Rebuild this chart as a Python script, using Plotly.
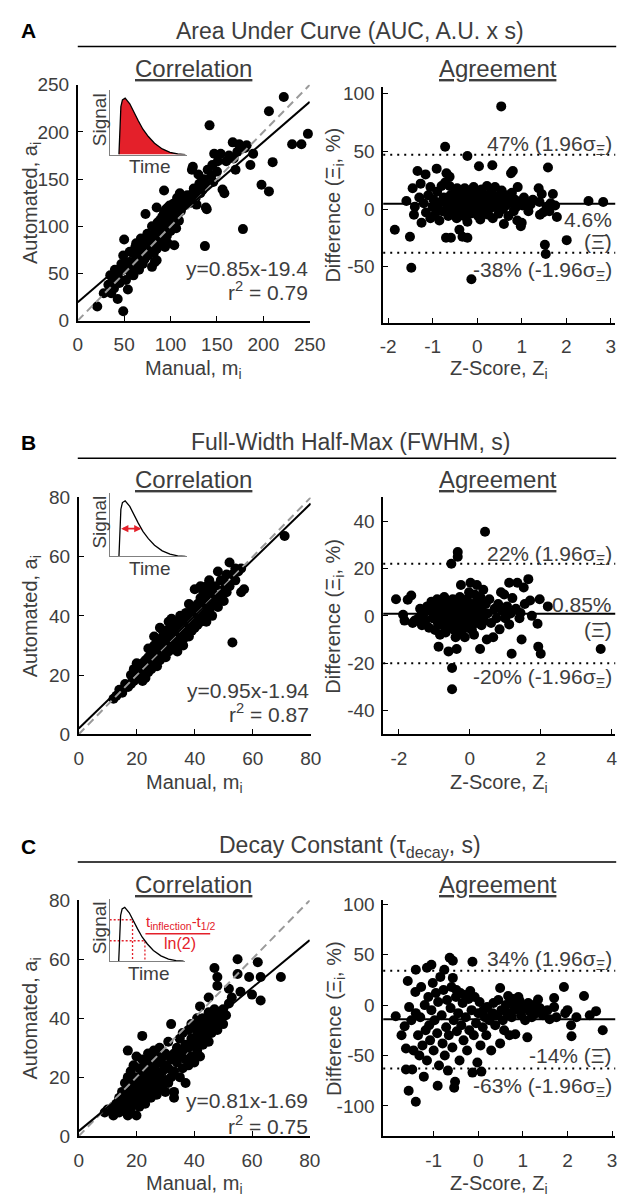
import numpy as np
import plotly.graph_objects as go

W, H = 630, 1201
FONT = "Liberation Sans, Arial, Helvetica, sans-serif"
TXT = "#3d3d3d"
RED = "#e4202a"

# ---------------- data ----------------
panel_letters = ["A", "B", "C"]
panel_titles = ["Area Under Curve (AUC, A.U. x s)",
                "Full-Width Half-Max (FWHM, s)",
                "Decay Constant (τ<sub>decay</sub>, s)"]
fit_slope = [0.85, 0.95, 0.81]
fit_offset = [19.4, 1.94, 1.69]
fit_labels = ["y=0.85x-19.4", "y=0.95x-1.94", "y=0.81x-1.69"]
r_squared = [0.79, 0.87, 0.75]
agree_mean = [4.6, 0.85, -14]
agree_upper = [47, 22, 34]
agree_lower = [-38, -20, -63]
corr_ticks = [[0, 50, 100, 150, 200, 250], [0, 20, 40, 60, 80], [0, 20, 40, 60, 80]]
z_ticks = [[-2, -1, 0, 1, 2, 3], [-2, 0, 2, 4], [-1, 0, 1, 2, 3]]
diff_ticks = [[-100, -50, 0, 50, 100], [-40, -20, 0, 20, 40], [-100, -50, 0, 50, 100]]

# (manual, automated)
auc_corr = [(21,15),(28,29),(33,38),(35,48),(36,29),(38,43),(39,34),(40,54),(43,23),(43,50),(44,45),(45,40),
 (47,60),(49,10),(49,54),(49,69),(50,86),(52,43),(53,62),(54,33),(56,57),(56,73),(57,50),(58,62),(60,48),
 (61,71),(62,58),(62,78),(63,82),(64,66),(65,70),(66,54),(67,75),(68,80),(68,87),(69,68),(70,60),(71,73),
 (71,85),(72,65),(73,113),(74,78),(75,82),(75,92),(76,69),(77,90),(78,75),(79,88),(80,83),(80,57),(80,100),
 (82,72),(83,62),(83,88),(84,95),(85,76),(85,64),(85,120),(86,104),(87,99),(87,90),(88,80),(89,107),(90,92),
 (90,85),(91,110),(92,95),(92,100),(93,138),(93,115),(94,78),(94,99),(95,105),(95,118),(96,90),(97,82),
 (97,102),(97,120),(98,110),(99,122),(100,95),(101,108),(101,113),(102,100),(103,124),(104,80),(104,116),
 (105,104),(106,98),(107,130),(108,113),(108,125),(109,106),(110,118),(110,135),(111,116),(112,130),
 (113,121),(115,128),(116,125),(118,127),(118,133),(120,130),(122,125),(123,134),(123,160),(124,163),
 (125,140),(127,130),(128,123),(130,155),(131,145),(132,135),(134,138),(135,140),(136,150),(137,79),
 (138,120),(139,144),(139,118),(140,160),(142,207),(144,154),(145,165),(146,147),(147,177),(150,158),
 (151,169),(154,177),(156,139),(158,135),(160,169),(163,175),(167,189),(168,172),(170,160),(172,179),
 (174,187),(178,97),(180,183),(182,186),(186,165),(189,177),(198,144),(206,137),(206,222),(210,168),
 (222,237),(231,187),(241,187),(248,198)]

fwhm_corr = [(12,12),(13,13),(14,15),(15,14),(16,17),(17,16),(18,17),(18,20),(19,18),(19,22),(20,19),(20,21),
 (21,20),(21,23),(22,20),(22,24),(23,22),(23,25),(24,21),(24,23),(24,26),(25,22),(25,25),(25,28),(26,24),
 (26,27),(26,30),(27,23),(27,26),(27,29),(28,25),(28,28),(28,31),(28,36),(29,27),(29,30),(29,33),(30,26),
 (30,29),(30,32),(30,35),(31,28),(31,31),(31,34),(32,29),(32,32),(32,36),(33,30),(33,33),(33,38),(34,31),
 (34,34),(34,37),(35,30),(35,33),(35,36),(35,40),(36,32),(36,35),(36,38),(37,34),(37,37),(37,41),(38,33),
 (38,36),(38,40),(39,35),(39,38),(39,43),(40,36),(40,39),(40,42),(40,49),(41,37),(41,40),(41,44),(42,38),
 (42,42),(42,46),(42,50),(43,40),(43,44),(43,48),(44,41),(44,45),(44,50),(45,42),(45,47),(45,52),(46,44),
 (46,48),(47,45),(47,50),(48,43),(48,46),(48,55),(49,47),(49,52),(50,45),(50,49),(50,52),(51,48),(51,54),
 (52,50),(52,58),(53,31),(53,54),(54,52),(54,56),(55,55),(56,48),(56,56),(57,49),(71,67),(26,33),(24,29),
 (22,18),(34,28),(36,30),(38,44),(32,39),(29,35),(31,38),(44,38),(46,40),(27,32),(23,19),(20,24)]

decay_corr = [(9,8),(10,9),(12,7),(12,10),(13,11),(14,8),(14,13),(15,9),(15,12),(15,15),(16,10),(16,14),
 (16,18),(17,7),(17,12),(17,16),(17,20),(17,29),(18,9),(18,13),(18,17),(18,22),(19,11),(19,15),(19,19),
 (19,24),(20,7),(20,12),(20,16),(20,20),(20,27),(21,10),(21,14),(21,18),(21,23),(22,13),(22,17),(22,21),
 (22,26),(22,34),(23,11),(23,15),(23,19),(23,24),(24,14),(24,18),(24,22),(24,28),(25,13),(25,17),(25,21),
 (25,26),(26,15),(26,19),(26,24),(26,29),(27,14),(27,18),(27,22),(27,27),(28,16),(28,20),(28,25),(28,30),
 (29,17),(29,22),(29,27),(30,15),(30,19),(30,24),(30,28),(31,18),(31,23),(31,32),(32,20),(32,26),(32,38),
 (33,13),(33,15),(33,22),(33,28),(34,25),(34,30),(35,20),(35,27),(35,33),(36,23),(36,29),(36,35),(37,18),
 (37,26),(37,31),(38,24),(38,30),(38,36),(39,27),(39,33),(39,38),(40,25),(40,31),(40,37),(41,29),(41,35),
 (41,40),(42,27),(42,33),(42,38),(42,44),(43,31),(43,36),(43,40),(44,34),(44,39),(45,32),(45,37),(45,42),
 (45,47),(46,35),(46,40),(47,38),(47,43),(47,57),(48,36),(48,41),(48,51),(48,54),(49,40),(50,38),(50,43),
 (51,41),(52,45),(52,50),(53,47),(55,60),(55,55),(56,49),(59,54),(60,48),(62,59),(63,54),(63,46),(70,54)]

# (z-score, difference %)
auc_agree = [(-1.85,-18),(-1.59,7),(-1.51,-24),(-1.48,-51),(-1.45,18),(-1.42,-5),(-1.40,2),(-1.34,33),
 (-1.30,10),(-1.27,22),(-1.25,-12),(-1.20,5),(-1.16,30),(-1.15,-3),(-1.10,12),(-1.05,19),(-1.05,-8),
 (-1.00,2),(-0.98,8),(-0.95,-5),(-0.91,35),(-0.90,15),(-0.88,0),(-0.85,-10),(-0.82,6),(-0.80,20),
 (-0.78,-2),(-0.75,10),(-0.72,54),(-0.72,23),(-0.70,-25),(-0.69,31),(-0.68,4),(-0.65,-6),(-0.62,28),
 (-0.62,20),(-0.60,12),(-0.59,-25),(-0.58,0),(-0.55,8),(-0.52,-4),(-0.50,15),(-0.48,3),(-0.46,-8),
 (-0.45,18),(-0.43,6),(-0.40,-18),(-0.40,10),(-0.38,-2),(-0.36,14),(-0.35,2),(-0.33,-24),(-0.32,8),
 (-0.30,-6),(-0.28,18),(-0.26,4),(-0.24,12),(-0.22,46),(-0.22,-11),(-0.22,-25),(-0.20,0),(-0.18,16),
 (-0.16,7),(-0.15,-4),(-0.13,-61),(-0.12,10),(-0.10,3),(-0.08,19),(-0.06,-2),(-0.05,8),(-0.02,14),
 (0.00,5),(0.02,-6),(0.04,37),(0.05,11),(0.07,-9),(0.08,2),(0.10,17),(0.12,6),(0.15,-3),(0.17,12),
 (0.20,4),(0.22,20),(0.25,-5),(0.27,9),(0.30,1),(0.32,15),(0.34,38),(0.35,-8),(0.38,6),(0.40,19),
 (0.42,2),(0.45,11),(0.48,-4),(0.50,7),(0.54,89),(0.55,16),(0.58,0),(0.60,-13),(0.62,9),(0.65,3),
 (0.68,12),(0.70,-6),(0.72,5),(0.76,31),(0.78,14),(0.80,33),(0.82,-2),(0.85,8),(0.88,2),(0.90,-10),
 (0.91,19),(0.95,6),(0.98,-15),(1.00,-12),(1.02,3),(1.05,10),(1.10,5),(1.15,-2),(1.20,4),(1.25,8),
 (1.38,18),(1.40,6),(1.41,-5),(1.45,13),(1.48,-3),(1.52,-31),(1.54,-39),(1.56,2),(1.59,36),(1.62,-2),
 (1.65,5),(1.70,13),(1.75,3),(1.79,-7),(2.01,-27),(2.50,7),(2.83,6)]

fwhm_agree = [(-2.08,7),(-1.88,0.5),(-1.84,-2),(-1.75,6.8),(-1.65,8.6),(-1.61,-3),(-1.55,-2),(-1.45,-1),
 (-1.40,3),(-1.35,-4),(-1.30,1),(-1.25,-2),(-1.20,4),(-1.15,-5),(-1.10,2),(-1.08,6),(-1.05,-1),(-1.00,3),
 (-0.98,-6),(-0.95,1),(-0.92,7),(-0.90,-3),(-0.88,-13),(-0.86,4),(-0.84,-8),(-0.82,0),(-0.80,5),
 (-0.78,-4),(-0.75,2),(-0.72,8),(-0.70,-2),(-0.68,-7),(-0.66,3),(-0.64,-1),(-0.62,6),(-0.60,-15),
 (-0.58,1),(-0.56,-5),(-0.54,4),(-0.52,22),(-0.52,-3),(-0.50,-22),(-0.50,-31),(-0.48,7),(-0.46,0),
 (-0.44,-6),(-0.42,2),(-0.40,-9),(-0.38,5),(-0.37,-14),(-0.36,-2),(-0.34,27),(-0.34,25),(-0.32,1),
 (-0.30,-4),(-0.28,8),(-0.26,3),(-0.25,13),(-0.24,-7),(-0.22,0),(-0.20,6),(-0.18,-3),(-0.16,2),
 (-0.14,-9),(-0.12,4),(-0.10,-1),(-0.08,7),(-0.06,-5),(-0.04,1),(-0.02,10),(0.00,-2),(0.02,14),(0.04,3),
 (0.06,-6),(0.08,5),(0.10,0),(0.12,-8),(0.14,9),(0.16,2),(0.18,-3),(0.20,13),(0.22,6),(0.25,-1),
 (0.28,4),(0.29,-14),(0.30,8),(0.33,-4),(0.35,2),(0.38,11),(0.40,-2),(0.43,35.5),(0.45,5),(0.48,-10),
 (0.50,1),(0.55,7),(0.60,-3),(0.66,-9),(0.70,3),(0.75,-1),(0.80,5),(0.84,-5.7),(0.88,10),(0.92,2),
 (0.97,9),(1.00,-1),(1.05,4),(1.11,14),(1.11,-3.6),(1.15,1),(1.18,-16),(1.20,7.5),(1.30,3),(1.34,14),
 (1.40,-1),(1.43,1.2),(1.46,-10),(1.52,12),(1.55,5),(1.65,15.5),(1.70,6.5),(1.75,0),(1.91,-3.3),
 (1.93,-13),(1.97,7),(2.00,-16),(2.20,4),(3.69,-14)]

decay_agree = [(-1.85,-11),(-1.72,-30),(-1.65,-21),(-1.62,-64),(-1.62,-43),(-1.58,24),(-1.56,-85),
 (-1.55,-2),(-1.50,-15),(-1.48,-64),(-1.45,-45),(-1.41,13),(-1.40,-96),(-1.40,35),(-1.40,-8),(-1.35,-30),
 (-1.32,-50),(-1.30,-12),(-1.28,18),(-1.25,-40),(-1.22,-71),(-1.20,0),(-1.18,-25),(-1.15,37),(-1.15,-55),
 (-1.12,8),(-1.10,-20),(-1.08,-35),(-1.05,40),(-1.05,-5),(-1.02,22),(-1.00,-45),(-0.98,-15),(-0.95,12),
 (-0.92,-28),(-0.91,-80),(-0.90,3),(-0.88,-60),(-0.85,28),(-0.82,-10),(-0.80,-38),(-0.78,15),(-0.76,35),
 (-0.75,-50),(-0.72,-22),(-0.70,5),(-0.68,-65),(-0.66,-30),(-0.64,47),(-0.62,-3),(-0.60,18),(-0.58,-42),
 (-0.57,44),(-0.57,27),(-0.55,-15),(-0.54,-82),(-0.52,-76),(-0.50,8),(-0.49,15),(-0.48,-26),(-0.45,-8),
 (-0.42,-55),(-0.40,12),(-0.38,-20),(-0.35,2),(-0.33,-35),(-0.30,10),(-0.28,-12),(-0.25,-45),(-0.22,6),
 (-0.20,-25),(-0.18,14),(-0.15,-5),(-0.13,43),(-0.13,-67),(-0.10,-30),(-0.08,8),(-0.05,-18),(-0.02,-57),
 (0.00,-8),(0.03,3),(0.05,-40),(0.07,-66),(0.10,-22),(0.12,-5),(0.15,-12),(0.18,-30),(0.20,-2),
 (0.25,-15),(0.29,-45),(0.32,-8),(0.34,2),(0.38,-20),(0.42,-10),(0.45,5),(0.49,17),(0.49,-38),(0.52,-5),
 (0.55,-15),(0.58,-25),(0.62,0),(0.65,-8),(0.67,9),(0.70,-30),(0.72,3),(0.75,-12),(0.78,6),(0.80,-5),
 (0.83,-29),(0.86,-2),(0.90,8),(0.93,4),(0.96,-10),(1.00,-3),(1.05,-15),(1.10,-32),(1.12,2),(1.15,-6),
 (1.20,-12),(1.25,0),(1.30,-8),(1.34,5.5),(1.38,-3),(1.45,-10),(1.55,-5),(1.60,-14),(1.70,7),(1.70,-2),
 (1.75,-12),(1.92,18),(1.95,-8),(2.00,-5),(2.08,-20),(2.09,-31),(2.20,-12),(2.37,9),(2.50,-10),
 (2.64,-6),(2.79,-25)]

# schematic signal curve in the insets
inset_time = [1.2, 1.3, 1.45, 1.65, 2.0, 2.6, 3.1, 3.7, 4.3, 5.0, 5.8, 6.8, 7.8, 8.8, 9.8]
inset_signal = [0.0, 0.55, 0.85, 0.97, 1.0, 0.9, 0.75, 0.6, 0.45, 0.32, 0.2, 0.1, 0.04, 0.01, 0.0]
decay_levels = [0.77, 0.38]

corr_sets = [auc_corr, fwhm_corr, decay_corr]
agree_sets = [auc_agree, fwhm_agree, decay_agree]

# ---------------- geometry (pixels) ----------------
def dom_x(a, b):
    return [a / W, b / W]

def dom_y(top, bot):
    return [1 - bot / H, 1 - top / H]

def px(xp):
    return xp / W

def py(yp):
    return 1 - yp / H

left_x = [(67, 307), (68, 308), (68, 307)]
left_y = [(68, 308), (488, 729), (898, 1138)]
right_x = [(383, 623), (383, 623), (383, 623)]
right_y = [(70, 310), (488, 729), (898, 1138)]
left_rng = [[0, 250], [0, 80], [0, 80]]
right_xrng = [[-2.11, 3.1], [-2.44, 4.1], [-2.13, 3.07]]
right_yrng = [[-98.5, 106], [-50, 50], [-130, 104]]
inset_x = [(100, 180), (100, 180), (100, 178)]
inset_y = [(73, 139), (483, 548), (897, 960)]

title_y = [13, 432, 843]
line_y = [29, 448, 859]
sub_y = [51, 470, 882]
xlab_y = [358, 779, 1187]
eq_y = [255, 684, 1102]
r2_y = [278, 707, 1127]

fig = go.Figure()
layout = {}

def main_axis(dom, rng, ticks, anchor, standoff):
    return dict(domain=dom, range=rng, tickvals=ticks, ticktext=[f"{v:g}" for v in ticks],
                anchor=anchor, showline=True, linecolor="black", linewidth=1.6,
                ticks="inside", ticklen=5, tickwidth=1.3, tickcolor="black",
                showgrid=False, zeroline=False, ticklabelstandoff=standoff,
                tickfont=dict(family=FONT, size=19, color=TXT), fixedrange=True)

def inset_axis(dom, rng, anchor):
    return dict(domain=dom, range=rng, anchor=anchor, showline=True, linecolor="#808080",
                linewidth=1.2, ticks="", showticklabels=False, showgrid=False,
                zeroline=False, fixedrange=True)

annotations = []
shapes = []

def txt(x, y, text, size=19, color=TXT, xanchor="center", yanchor="middle", textangle=0, **kw):
    annotations.append(dict(x=x, y=y, xref=kw.pop("xref", "paper"), yref=kw.pop("yref", "paper"),
                            text=text, showarrow=False, xanchor=xanchor, yanchor=yanchor,
                            textangle=textangle,
                            font=dict(family=FONT, size=size, color=color), **kw))

t_arr = np.array(inset_time)
s_arr = np.array(inset_signal)
ipk = int(s_arr.argmax())

for i in range(3):
    nl = 2 * i + 1
    nr = 2 * i + 2
    ni = 7 + i
    xl, yl = f"x{nl}", f"y{nl}"
    xr, yr = f"x{nr}", f"y{nr}"
    xi, yi = f"x{ni}", f"y{ni}"
    layout[f"xaxis{nl}"] = main_axis(dom_x(*left_x[i]), left_rng[i], corr_ticks[i], yl, 6)
    layout[f"yaxis{nl}"] = main_axis(dom_y(*left_y[i]), left_rng[i], corr_ticks[i], xl, 3)
    layout[f"xaxis{nr}"] = main_axis(dom_x(*right_x[i]), right_xrng[i], z_ticks[i], yr, 6)
    layout[f"yaxis{nr}"] = main_axis(dom_y(*right_y[i]), right_yrng[i], diff_ticks[i], xr, 3)
    layout[f"xaxis{ni}"] = inset_axis(dom_x(*inset_x[i]), [0, 10], yi)
    layout[f"yaxis{ni}"] = inset_axis(dom_y(*inset_y[i]), [0, 1.15], xi)

    # ---- correlation scatter ----
    m, a = zip(*corr_sets[i])
    fig.add_trace(go.Scatter(x=m, y=a, mode="markers", xaxis=xl, yaxis=yl, cliponaxis=False,
                             marker=dict(color="black", size=10, line=dict(width=0)),
                             hoverinfo="skip", showlegend=False))
    xs = np.array(left_rng[i], dtype=float)
    fig.add_trace(go.Scatter(x=xs, y=xs, mode="lines", xaxis=xl, yaxis=yl,
                             line=dict(color="#9a9a9a", width=2, dash="8px,5px"),
                             hoverinfo="skip", showlegend=False))
    fig.add_trace(go.Scatter(x=xs, y=fit_slope[i] * xs + fit_offset[i], mode="lines",
                             xaxis=xl, yaxis=yl, line=dict(color="black", width=2),
                             hoverinfo="skip", showlegend=False))

    # ---- agreement scatter ----
    z, d = zip(*agree_sets[i])
    fig.add_trace(go.Scatter(x=z, y=d, mode="markers", xaxis=xr, yaxis=yr, cliponaxis=False,
                             marker=dict(color="black", size=10, line=dict(width=0)),
                             hoverinfo="skip", showlegend=False))
    for val, dash in [(agree_mean[i], "solid"), (agree_upper[i], "2px,5px"), (agree_lower[i], "2px,5px")]:
        shapes.append(dict(type="line", xref=f"{xr} domain", yref=yr, x0=0, x1=1, y0=val, y1=val,
                           line=dict(color="black", width=2, dash=dash)))

    # ---- inset ----
    if i == 0:
        fig.add_trace(go.Scatter(x=inset_time, y=inset_signal, mode="lines", fill="tozeroy",
                                 fillcolor=RED, line=dict(color="black", width=1.3),
                                 xaxis=xi, yaxis=yi, hoverinfo="skip", showlegend=False))
    elif i == 1:
        fig.add_trace(go.Scatter(x=inset_time, y=inset_signal, mode="lines",
                                 line=dict(color="black", width=1.3),
                                 xaxis=xi, yaxis=yi, hoverinfo="skip", showlegend=False))
        half = 0.5 * s_arr.max()
        t_rise = np.interp(half, s_arr[:ipk + 1], t_arr[:ipk + 1])
        t_fall = np.interp(half, s_arr[ipk:][::-1], t_arr[ipk:][::-1])
        annotations.append(dict(x=t_fall, y=half, ax=t_rise, ay=half, xref=xi, yref=yi,
                                axref=xi, ayref=yi, text="", showarrow=True,
                                arrowside="end+start", arrowhead=2, arrowsize=0.8,
                                arrowwidth=1.8, arrowcolor=RED))
    else:
        for lev in decay_levels:
            tc = float(np.interp(lev, s_arr[ipk:][::-1], t_arr[ipk:][::-1]))
            fig.add_trace(go.Scatter(x=[0, tc, tc], y=[lev, lev, 0], mode="lines",
                                     line=dict(color=RED, width=1.3, dash="2px,2px"),
                                     xaxis=xi, yaxis=yi, hoverinfo="skip", showlegend=False))
        fig.add_trace(go.Scatter(x=inset_time, y=inset_signal, mode="lines",
                                 line=dict(color="black", width=1.3),
                                 xaxis=xi, yaxis=yi, hoverinfo="skip", showlegend=False))
        txt(px(136), py(921), "t<sub>inflection</sub>-t<sub>1/2</sub>", size=15, color=RED,
            xanchor="left")
        shapes.append(dict(type="line", xref="paper", yref="paper", x0=px(137), x1=px(204),
                           y0=py(932), y1=py(932), line=dict(color=RED, width=1.5)))
        txt(px(173), py(942), "ln(2)", size=16, color=RED)

    ix0, ix1 = inset_x[i]
    iy0, iy1 = inset_y[i]
    txt(px(ix0 - 11), py((iy0 + iy1) / 2 - 2), "Signal", size=19, textangle=-90)
    txt(px((ix0 + ix1) / 2 + 2), py(iy1 + 12), "Time", size=19)

    # ---- headings ----
    txt(px(16), py(title_y[i]), f"<b>{panel_letters[i]}</b>", size=21, color="black")
    txt(px(349), py(title_y[i]), panel_titles[i], size=23)
    shapes.append(dict(type="line", xref="paper", yref="paper", x0=px(67), x1=px(624),
                       y0=py(line_y[i]), y1=py(line_y[i]), line=dict(color="black", width=1.5)))
    txt(px(187), py(sub_y[i]), "<u>Correlation</u>", size=24)
    txt(px(502), py(sub_y[i]), "<u>Agreement</u>", size=24)

    # ---- axis titles ----
    lx0, lx1 = left_x[i]
    ly0, ly1 = left_y[i]
    rx0, rx1 = right_x[i]
    ry0, ry1 = right_y[i]
    txt(px((lx0 + lx1) / 2), py(xlab_y[i]), "Manual, m<sub>i</sub>", size=20)
    txt(px((rx0 + rx1) / 2), py(xlab_y[i]), "Z-Score, Z<sub>i</sub>", size=20)
    txt(px(19), py((ly0 + ly1) / 2), "Automated, a<sub>i</sub>", size=20, textangle=-90)
    txt(px(333), py((ry0 + ry1) / 2), "Difference (Ξ<sub>i</sub>, %)", size=20, textangle=-90)

    # ---- fit text ----
    txt(px(lx1), py(eq_y[i]), fit_labels[i], size=21, xanchor="right")
    txt(px(lx1), py(r2_y[i]), f"r<sup>2</sup> = {r_squared[i]:.2f}", size=21, xanchor="right")

# ---- agreement labels ----
sig_up = "(1.96σ<sub>Ξ</sub>)"
sig_lo = "(-1.96σ<sub>Ξ</sub>)"
xbar = "(Ξ\u0304)"
agree_label_specs = [
    [(agree_upper[0], f"{agree_upper[0]:g}% {sig_up}", 10),
     (agree_mean[0], f"{agree_mean[0]:g}%", -16),
     (agree_mean[0], xbar, -38),
     (agree_lower[0], f"{agree_lower[0]:g}% {sig_lo}", -18)],
    [(agree_upper[1], f"{agree_upper[1]:g}% {sig_up}", 9),
     (agree_mean[1], f"{agree_mean[1]:g}%", 9),
     (agree_mean[1], xbar, -16),
     (agree_lower[1], f"{agree_lower[1]:g}% {sig_lo}", -15)],
    [(agree_upper[2], f"{agree_upper[2]:g}% {sig_up}", 11),
     (agree_mean[2], f"{agree_mean[2]:g}% {xbar}", -36),
     (agree_lower[2], f"{agree_lower[2]:g}% {sig_lo}", -18)],
]
for i, specs in enumerate(agree_label_specs):
    xr, yr = f"x{2 * i + 2}", f"y{2 * i + 2}"
    for val, label, shift in specs:
        txt(1, val, label, size=21, xanchor="right", xref=f"{xr} domain", yref=yr,
            yshift=shift, xshift=-1)

fig.update_layout(**layout)
fig.update_layout(width=W, height=H, margin=dict(l=0, r=0, t=0, b=0),
                  paper_bgcolor="white", plot_bgcolor="rgba(0,0,0,0)",
                  showlegend=False, annotations=annotations, shapes=shapes,
                  font=dict(family=FONT, color=TXT))

fig.write_html("out.html")
